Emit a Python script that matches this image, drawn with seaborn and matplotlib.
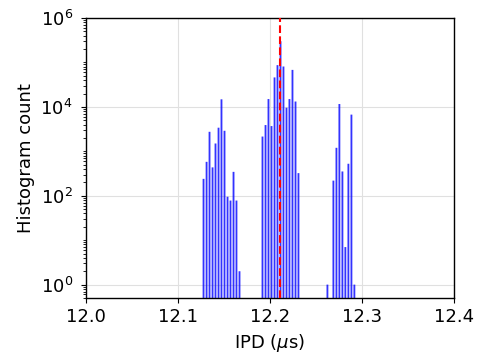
import numpy as np
import pandas as pd
import matplotlib
matplotlib.use("Agg")
import matplotlib.pyplot as plt
import matplotlib.ticker as mticker
import seaborn as sns

# Quantized IPD values (µs) and histogram counts
ipd_cluster1 = [12.1278, 12.1311, 12.1343, 12.1376, 12.1408, 12.1441, 12.1473,
                12.1506, 12.1539, 12.1571, 12.1604, 12.1636, 12.1669]
cnt_cluster1 = [240, 580, 2750, 435, 1500, 3400, 14800, 2900, 95, 78, 345, 78, 2]

ipd_cluster2 = [12.1919, 12.1952, 12.1984, 12.2017, 12.2050, 12.2082, 12.2115,
                12.2147, 12.2180, 12.2212, 12.2245, 12.2278, 12.2310]
cnt_cluster2 = [2150, 3900, 15000, 3700, 46000, 87000, 300000, 81000, 9600,
                15000, 68000, 13200, 323]

ipd_cluster3 = [12.2625, 12.2690, 12.2723, 12.2755, 12.2788, 12.2820, 12.2853,
                12.2886, 12.2918]
cnt_cluster3 = [1, 219, 1200, 11600, 352, 7, 525, 6700, 1]

nominal_ipd = 12.2114

x_ticks = [12.0, 12.1, 12.2, 12.3, 12.4]
y_ticks = [1, 1e2, 1e4, 1e6]

df = pd.DataFrame({
    "ipd": ipd_cluster1 + ipd_cluster2 + ipd_cluster3,
    "count": cnt_cluster1 + cnt_cluster2 + cnt_cluster3,
})

sns.set_style("ticks", {"text.color": "black", "axes.labelcolor": "black",
                        "xtick.color": "black", "ytick.color": "black",
                        "axes.edgecolor": "black"})
plt.rcParams["font.family"] = ["DejaVu Sans"]

fig = plt.figure(figsize=(4.87, 3.58), dpi=100)
ax = fig.add_axes([0.1766, 0.1676, 0.932 - 0.1766, 0.9497 - 0.1676])

half = 0.001
vals = np.sort(df["ipd"].values)
edges = [float(e) for e in np.sort(np.concatenate([vals - half, vals + half]))]

sns.histplot(data=df, x="ipd", weights="count", bins=edges, ax=ax,
             color="blue", alpha=0.8, linewidth=0, zorder=2)
for p in ax.patches:
    p.set_snap(False)

ax.axvline(nominal_ipd, color="red", linestyle="--", linewidth=1.5, zorder=3)

ax.set_yscale("log")
ax.set_xlim(12.0, 12.4)
ax.set_ylim(0.5, 1e6)
ax.set_xticks(x_ticks)
ax.set_xticklabels([f"{t:.1f}" for t in x_ticks])
ax.set_yticks(y_ticks)
ax.yaxis.set_major_formatter(mticker.LogFormatterMathtext())
ax.yaxis.set_minor_locator(mticker.LogLocator(base=10, subs=np.arange(1, 10), numticks=30))
ax.yaxis.set_minor_formatter(mticker.NullFormatter())

ax.grid(True, which="major", color="#e0e0e0", linewidth=0.8, zorder=0)
ax.set_axisbelow(True)
for s in ax.spines.values():
    s.set_visible(True)
    s.set_color("black")
    s.set_linewidth(1.0)

ax.tick_params(axis="both", which="major", labelsize=13, direction="out", length=3.5,
               color="black", labelcolor="black")
ax.tick_params(axis="y", which="major", pad=6)
ax.tick_params(axis="x", which="major", pad=4)
ax.tick_params(axis="y", which="minor", length=2, color="black")
ax.set_xlabel(r"IPD ($\mu$s)", fontsize=13, color="black")
ax.set_ylabel("Histogram count", fontsize=13, color="black")

fig.savefig("out.png", dpi=100)
